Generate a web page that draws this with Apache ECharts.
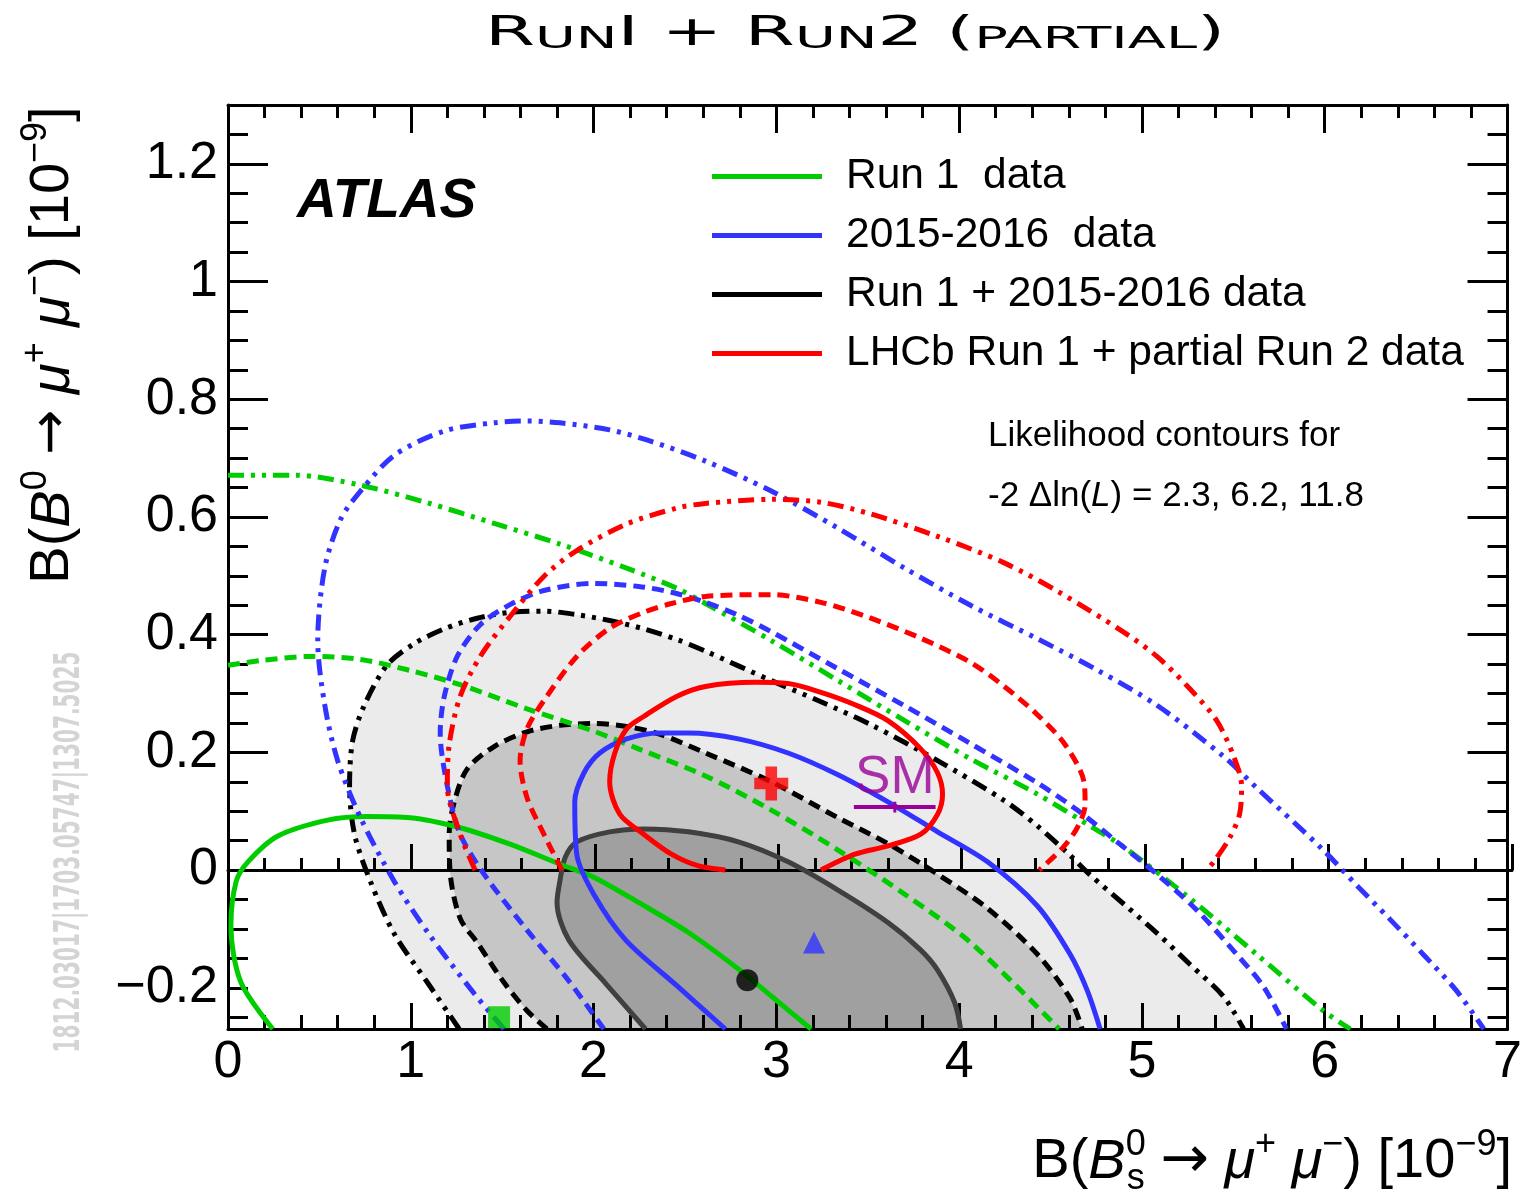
<!DOCTYPE html>
<html><head><meta charset="utf-8">
<script src="https://cdn.jsdelivr.net/npm/echarts@6/dist/echarts.min.js"></script>
<style>html,body{margin:0;padding:0;background:#fff}#c{width:1525px;height:1193px}</style>
</head><body><div id="c"></div>
<script>
// ---------- axis ticks / labels ----------
const xTickLabels = [0, 1, 2, 3, 4, 5, 6, 7];
const yTickLabels = [-0.2, 0, 0.2, 0.4, 0.6, 0.8, 1.0, 1.2];
const yMajorTicks = [0, 0.2, 0.4, 0.6, 0.8, 1.0, 1.2];
const yMinorTicks = [-0.25, -0.2, -0.15, -0.1, -0.05, 0, 0.05, 0.1, 0.15, 0.2, 0.25, 0.3, 0.35, 0.4, 0.45, 0.5, 0.55, 0.6, 0.65, 0.7, 0.75, 0.8, 0.85, 0.9, 0.95, 1.0, 1.05, 1.1, 1.15, 1.2, 1.25];
const legendNames = ['Run 1  data', '2015-2016  data', 'Run 1 + 2015-2016 data', 'LHCb Run 1 + partial Run 2 data'];

// ---------- contours: [B(Bs), B(B0)] ----------
const run1_23 = [[0.245,-0.27],[0.071,-0.191],[0.016,-0.095],[0.044,-0.020],[0.109,0.014],[0.273,0.058],[0.545,0.085],[0.763,0.091],[0.998,0.089],[1.270,0.072],[1.543,0.044],[1.816,0.010],[2.001,-0.012],[2.246,-0.055],[2.519,-0.106],[2.792,-0.168],[2.972,-0.214],[3.190,-0.27]];
const run1_62 = [[0,0.348],[0.180,0.356],[0.453,0.363],[0.725,0.358],[0.998,0.339],[1.270,0.315],[1.636,0.274],[2.001,0.236],[2.246,0.206],[2.612,0.160],[2.972,0.102],[3.337,0.034],[3.702,-0.041],[4.062,-0.123],[4.547,-0.27]];
const run1_118 = [[0,0.671],[0.365,0.671],[0.725,0.654],[1.091,0.624],[1.456,0.589],[1.816,0.554],[2.181,0.513],[2.454,0.479],[2.612,0.453],[2.972,0.390],[3.337,0.322],[3.702,0.254],[4.062,0.189],[4.428,0.129],[4.716,0.075],[4.902,0.039],[5.262,-0.048],[5.627,-0.143],[5.992,-0.239],[6.140,-0.27]];

const run2_23 = [[2.721,-0.27],[2.454,-0.196],[2.176,-0.119],[2.001,-0.041],[1.908,0.027],[1.897,0.116],[1.947,0.165],[2.034,0.199],[2.181,0.223],[2.361,0.233],[2.519,0.233],[2.792,0.223],[3.064,0.199],[3.337,0.162],[3.610,0.116],[3.882,0.065],[4.155,0.014],[4.428,-0.061],[4.607,-0.143],[4.700,-0.204],[4.771,-0.27]];
const run2_62 = [[2.056,-0.27],[1.854,-0.184],[1.636,-0.102],[1.401,-0.007],[1.270,0.061],[1.200,0.143],[1.161,0.233],[1.183,0.295],[1.254,0.363],[1.380,0.417],[1.543,0.451],[1.728,0.475],[2.001,0.487],[2.246,0.482],[2.426,0.472],[2.612,0.455],[2.792,0.433],[2.972,0.405],[3.337,0.342],[3.702,0.279],[4.062,0.215],[4.428,0.148],[4.646,0.102],[4.864,0.048],[5.082,-0.007],[5.300,-0.068],[5.518,-0.143],[5.665,-0.198],[5.791,-0.27]];
const run2_118 = [[1.510,-0.27],[1.350,-0.211],[1.100,-0.109],[0.911,-0.020],[0.725,0.089],[0.600,0.186],[0.529,0.281],[0.491,0.390],[0.529,0.513],[0.616,0.596],[0.725,0.644],[0.911,0.705],[1.183,0.746],[1.456,0.760],[1.636,0.763],[1.816,0.760],[2.088,0.748],[2.300,0.730],[2.612,0.695],[2.972,0.644],[3.337,0.581],[3.702,0.513],[4.062,0.450],[4.428,0.393],[4.755,0.340],[5.082,0.280],[5.447,0.193],[5.627,0.140],[5.992,0.034],[6.172,-0.025],[6.352,-0.082],[6.538,-0.143],[6.718,-0.204],[6.870,-0.27]];

const comb_23 = [[2.284,-0.27],[2.070,-0.194],[1.865,-0.119],[1.800,-0.055],[1.816,-0.018],[1.845,0.022],[1.908,0.048],[2.088,0.065],[2.274,0.070],[2.519,0.065],[2.792,0.048],[3.064,0.014],[3.337,-0.034],[3.610,-0.089],[3.790,-0.136],[3.882,-0.170],[3.975,-0.225],[4.008,-0.27]];
const comb_62 = [[1.745,-0.27],[1.636,-0.239],[1.510,-0.191],[1.363,-0.123],[1.270,-0.082],[1.216,-0.007],[1.210,0.061],[1.238,0.116],[1.309,0.172],[1.456,0.210],[1.636,0.235],[1.816,0.246],[2.001,0.249],[2.181,0.244],[2.361,0.231],[2.612,0.199],[2.972,0.150],[3.337,0.089],[3.610,0.045],[3.882,-0.007],[4.155,-0.065],[4.428,-0.143],[4.607,-0.218],[4.673,-0.27]];
const comb_118 = [[1.265,-0.27],[1.091,-0.191],[0.911,-0.109],[0.780,-0.020],[0.692,0.061],[0.665,0.143],[0.682,0.220],[0.747,0.281],[0.872,0.349],[1.020,0.385],[1.183,0.410],[1.363,0.428],[1.543,0.438],[1.728,0.440],[1.908,0.434],[2.088,0.424],[2.274,0.410],[2.454,0.392],[2.612,0.372],[2.972,0.322],[3.244,0.286],[3.517,0.247],[3.882,0.186],[4.247,0.118],[4.428,0.075],[4.607,0.025],[4.716,-0.008],[4.902,-0.058],[5.082,-0.107],[5.262,-0.160],[5.447,-0.215],[5.556,-0.27]];

const lhcb_23 = [[3.244,0],[3.430,0.027],[3.610,0.041],[3.790,0.061],[3.882,0.095],[3.909,0.129],[3.882,0.165],[3.790,0.206],[3.610,0.254],[3.430,0.281],[3.244,0.302],[3.064,0.317],[2.884,0.319],[2.612,0.312],[2.454,0.295],[2.274,0.261],[2.181,0.240],[2.116,0.199],[2.088,0.150],[2.143,0.095],[2.274,0.061],[2.426,0.027],[2.574,0.007],[2.721,0]];
const lhcb_62 = [[1.827,0],[1.728,0.061],[1.636,0.123],[1.598,0.186],[1.636,0.240],[1.728,0.288],[1.908,0.363],[2.088,0.411],[2.274,0.438],[2.426,0.453],[2.612,0.465],[2.972,0.468],[3.244,0.455],[3.517,0.428],[3.790,0.394],[4.062,0.353],[4.247,0.312],[4.428,0.264],[4.580,0.213],[4.684,0.148],[4.689,0.111],[4.646,0.072],[4.564,0.037],[4.438,0]];
const lhcb_118 = [[1.352,0],[1.270,0.061],[1.200,0.143],[1.210,0.213],[1.270,0.295],[1.380,0.363],[1.543,0.431],[1.728,0.499],[1.908,0.543],[2.181,0.588],[2.454,0.615],[2.612,0.623],[2.972,0.630],[3.244,0.625],[3.517,0.605],[3.882,0.567],[4.247,0.522],[4.537,0.474],[4.902,0.404],[5.082,0.363],[5.262,0.308],[5.409,0.254],[5.502,0.193],[5.545,0.143],[5.534,0.095],[5.480,0.055],[5.393,0.014],[5.354,0]];

// ---------- best fit points & SM ----------
const bestRun1 = [1.483, -0.250];
const bestRun2 = [3.206, -0.123];
const bestComb = [2.841, -0.187];
const bestLHCb = [2.972, 0.147];
const smBar = [[3.424, 0.107], [3.871, 0.107]];
const smTick = [[3.648, 0.098], [3.648, 0.116]];
const smPoint = [3.648, 0.107];

// ---------- styling ----------
const FF = "'Liberation Sans', Arial, Helvetica, sans-serif";
const AF = "'DejaVu Sans', sans-serif";
const GREEN = '#00cc00', BLUE = '#3333ff', RED = '#ff0000', BLACK = '#000000', DARK = '#404040', PURPLE = '#990099';
const DASH = [12, 7];
const DDOT = [16, 7, 4, 7, 4, 7];
const LW = 5;

function fillSeries(pts, color) {
  return {
    type: 'custom', xAxisIndex: 0, yAxisIndex: 0, z: 1, silent: true, clip: true,
    data: pts, encode: { x: 0, y: 1 },
    renderItem: function (params, api) {
      if (params.dataIndex !== 0) return;
      const poly = pts.map(function (p) { return api.coord(p); });
      return { type: 'polygon', shape: { points: poly }, style: { fill: color, stroke: null } };
    }
  };
}
function contour(pts, color, type) {
  return {
    type: 'line', data: pts, xAxisIndex: 0, yAxisIndex: 0, showSymbol: false, symbol: 'none',
    smooth: 0.3, silent: true, z: 3, clip: true,
    lineStyle: { color: color, width: LW, type: type, cap: 'butt' }
  };
}
function marker(pt, symbol, size, color) {
  return { type: 'scatter', data: [pt], symbol: symbol, symbolSize: size, itemStyle: { color: color }, z: 6, silent: true };
}
const tickLine = { color: '#000', width: 3 };
const TF = "'DejaVu Sans', sans-serif";

const chart = echarts.init(document.getElementById('c'), null, { renderer: 'canvas' });
const option = {
  animation: false,
  backgroundColor: '#fff',
  grid: [
    { left: 228, top: 105, width: 1284, height: 924 },
    { left: 228, top: 105, width: 1284, height: 765 }
  ],
  xAxis: [
    { gridIndex: 0, type: 'value', min: 0, max: 7, interval: 1, position: 'bottom', z: 2,
      axisLine: { onZero: false, lineStyle: tickLine },
      axisTick: { inside: true, length: 26, lineStyle: tickLine },
      minorTick: { show: true, splitNumber: 5, length: 14, lineStyle: tickLine },
      axisLabel: { customValues: xTickLabels, fontSize: 52, fontFamily: FF, color: '#000', margin: 8, showMinLabel: true, showMaxLabel: true },
      splitLine: { show: false } },
    { gridIndex: 0, type: 'value', min: 0, max: 7, interval: 1, position: 'top', z: 2,
      axisLine: { onZero: false, lineStyle: tickLine },
      axisTick: { inside: true, length: 28, lineStyle: tickLine },
      minorTick: { show: true, splitNumber: 5, length: 13, lineStyle: tickLine },
      axisLabel: { show: false }, splitLine: { show: false } },
    { gridIndex: 1, type: 'value', min: 0, max: 7, interval: 1, position: 'bottom', z: 2,
      axisLine: { onZero: false, lineStyle: tickLine },
      axisTick: { inside: true, length: 26, lineStyle: tickLine },
      minorTick: { show: true, splitNumber: 5, length: 12, lineStyle: tickLine },
      axisLabel: { show: false }, splitLine: { show: false } }
  ],
  yAxis: [
    { gridIndex: 0, type: 'value', min: -0.27, max: 1.3, position: 'left', z: 2,
      axisLine: { show: true, onZero: false, lineStyle: tickLine },
      axisTick: { show: true, inside: true, length: 40, customValues: yMajorTicks, lineStyle: tickLine },
      axisLabel: { customValues: yTickLabels, fontSize: 52, fontFamily: FF, color: '#000', margin: 10,
        formatter: function (v) { return v < 0 ? '\u2212' + String(-v) : String(v); } },
      splitLine: { show: false } },
    { gridIndex: 0, type: 'value', min: -0.27, max: 1.3, position: 'left', z: 2,
      axisLine: { show: false, onZero: false },
      axisTick: { show: true, inside: true, length: 20, customValues: yMinorTicks, lineStyle: tickLine },
      axisLabel: { show: false }, splitLine: { show: false } },
    { gridIndex: 0, type: 'value', min: -0.27, max: 1.3, position: 'right', z: 2,
      axisLine: { show: true, onZero: false, lineStyle: tickLine },
      axisTick: { show: true, inside: true, length: 40, customValues: yMajorTicks, lineStyle: tickLine },
      axisLabel: { show: false }, splitLine: { show: false } },
    { gridIndex: 0, type: 'value', min: -0.27, max: 1.3, position: 'right', z: 2,
      axisLine: { show: false, onZero: false },
      axisTick: { show: true, inside: true, length: 20, customValues: yMinorTicks, lineStyle: tickLine },
      axisLabel: { show: false }, splitLine: { show: false } },
    { gridIndex: 1, type: 'value', min: 0, max: 1.3, show: false }
  ],
  legend: {
    data: legendNames.map(function (n) { return { name: n, icon: 'rect' }; }),
    orient: 'vertical', left: 707, top: 147, itemWidth: 110, itemHeight: 5, itemGap: 10,
    selectedMode: false,
    textStyle: { fontSize: 42.5, fontFamily: FF, color: '#000', lineHeight: 49, padding: [0, 0, 0, 19] }
  },
  series: [
    fillSeries(comb_118, '#ebebeb'),
    fillSeries(comb_62, '#c6c6c6'),
    fillSeries(comb_23, '#a0a0a0'),
    contour(comb_118, BLACK, DDOT),
    contour(comb_62, BLACK, DASH),
    contour(comb_23, DARK, 'solid'),
    contour(run1_118, GREEN, DDOT),
    contour(run1_62, GREEN, DASH),
    contour(run1_23, GREEN, 'solid'),
    contour(run2_118, BLUE, DDOT),
    contour(run2_62, BLUE, DASH),
    contour(run2_23, BLUE, 'solid'),
    contour(lhcb_118, RED, DDOT),
    contour(lhcb_62, RED, DASH),
    contour(lhcb_23, RED, 'solid'),
    { type: 'line', name: legendNames[0], data: [], itemStyle: { color: GREEN }, lineStyle: { color: GREEN } },
    { type: 'line', name: legendNames[1], data: [], itemStyle: { color: BLUE }, lineStyle: { color: BLUE } },
    { type: 'line', name: legendNames[2], data: [], itemStyle: { color: BLACK }, lineStyle: { color: BLACK } },
    { type: 'line', name: legendNames[3], data: [], itemStyle: { color: RED }, lineStyle: { color: RED } },
    { type: 'line', data: smBar, symbol: 'none', silent: true, z: 5, lineStyle: { color: PURPLE, width: 4 } },
    { type: 'line', data: smTick, symbol: 'none', silent: true, z: 5, lineStyle: { color: PURPLE, width: 3 } },
    { type: 'scatter', data: [smPoint], symbolSize: 1, silent: true, z: 5, itemStyle: { color: 'rgba(0,0,0,0)' },
      label: { show: true, formatter: 'SM', position: 'top', distance: 2, fontSize: 53, fontFamily: FF, color: PURPLE } },
    marker(bestRun1, 'rect', 22, GREEN),
    marker(bestRun2, 'triangle', 22, BLUE),
    marker(bestComb, 'circle', 22, BLACK),
    marker(bestLHCb, 'path://M3.3,0H6.7V3.3H10V6.7H6.7V10H3.3V6.7H0V3.3H3.3Z', 34, RED)
  ],
  graphic: [
    { type: 'text', x: 855, y: 33, scaleX: 1.8, silent: true,
      style: { text: '{b|R}{s|UN}{b|I + R}{s|UN}{b|2 (}{s|PARTIAL}{b|)}', align: 'center', verticalAlign: 'middle',
        rich: {
          b: { fontSize: 40, fontFamily: TF, fontWeight: 'normal', fill: '#000', lineHeight: 44, verticalAlign: 'bottom' },
          s: { fontSize: 31, fontFamily: TF, fontWeight: 'normal', fill: '#000', lineHeight: 38, verticalAlign: 'bottom' }
        } } },
    { type: 'text', x: 53, y: 345, rotation: Math.PI / 2, silent: true,
      style: { text: '{n|B(}{i|B}{sup|0}{n| }{ar|\u2192}{n| }{i|\u03bc}{sup|+}{n| }{i|\u03bc}{sup|\u2212}{n|) [10}{sup|\u22129}{n|]}',
        align: 'center', verticalAlign: 'middle',
        rich: {
          n: { fontSize: 56, fontFamily: FF, fill: '#000', lineHeight: 70 },
          ar: { fontSize: 54, fontFamily: AF, fill: '#000', lineHeight: 70 },
          i: { fontSize: 56, fontFamily: FF, fontStyle: 'italic', fill: '#000', lineHeight: 70 },
          sup: { fontSize: 36, fontFamily: FF, fill: '#000', lineHeight: 34, verticalAlign: 'top' }
        } } },
    { type: 'text', x: 1512, y: 1162, silent: true,
      style: { text: '{n|B(}{i|B}{sup0|0}{sub|s}{n| }{ar|\u2192}{n| }{i|\u03bc}{sup|+}{n| }{i|\u03bc}{sup|\u2212}{n|) [10}{sup|\u22129}{n|]}',
        align: 'right', verticalAlign: 'middle',
        rich: {
          n: { fontSize: 56, fontFamily: FF, fill: '#000', lineHeight: 70, align: 'left' },
          ar: { fontSize: 58, fontFamily: AF, fill: '#000', lineHeight: 70, align: 'left' },
          i: { fontSize: 56, fontFamily: FF, fontStyle: 'italic', fill: '#000', lineHeight: 70, align: 'left' },
          sup: { fontSize: 36, fontFamily: FF, fill: '#000', lineHeight: 34, verticalAlign: 'top', align: 'left' },
          sup0: { fontSize: 36, fontFamily: FF, fill: '#000', lineHeight: 34, verticalAlign: 'top', width: 1, align: 'left' },
          sub: { fontSize: 36, fontFamily: FF, fill: '#000', lineHeight: 34, verticalAlign: 'bottom', align: 'left' }
        } } },
    { type: 'text', x: 297, y: 202, silent: true,
      style: { text: 'ATLAS', fontSize: 55, fontWeight: 'bold', fontStyle: 'italic', fontFamily: FF, fill: '#000', align: 'left', verticalAlign: 'middle' } },
    { type: 'text', x: 988, y: 436, silent: true,
      style: { text: 'Likelihood contours for', fontSize: 35, fontFamily: FF, fill: '#000', align: 'left', verticalAlign: 'middle' } },
    { type: 'text', x: 988, y: 496, silent: true,
      style: { text: '{n|-2 \u0394ln(}{i|L}{n|) = 2.3, 6.2, 11.8}', align: 'left', verticalAlign: 'middle',
        rich: {
          n: { fontSize: 35, fontFamily: FF, fill: '#000' },
          i: { fontSize: 35, fontFamily: FF, fontStyle: 'italic', fill: '#000' }
        } } },
    { type: 'text', x: 70, y: 852, rotation: Math.PI / 2, scaleX: 0.62, silent: true,
      style: { text: '1812.03017|1703.05747|1307.5025', fontSize: 36, fontWeight: 'bold', fontFamily: "'DejaVu Sans Condensed', 'DejaVu Sans', sans-serif",
        fill: '#d4d4d4', align: 'center', verticalAlign: 'middle' } }
  ]
};
chart.setOption(option);
</script>
</body></html>
